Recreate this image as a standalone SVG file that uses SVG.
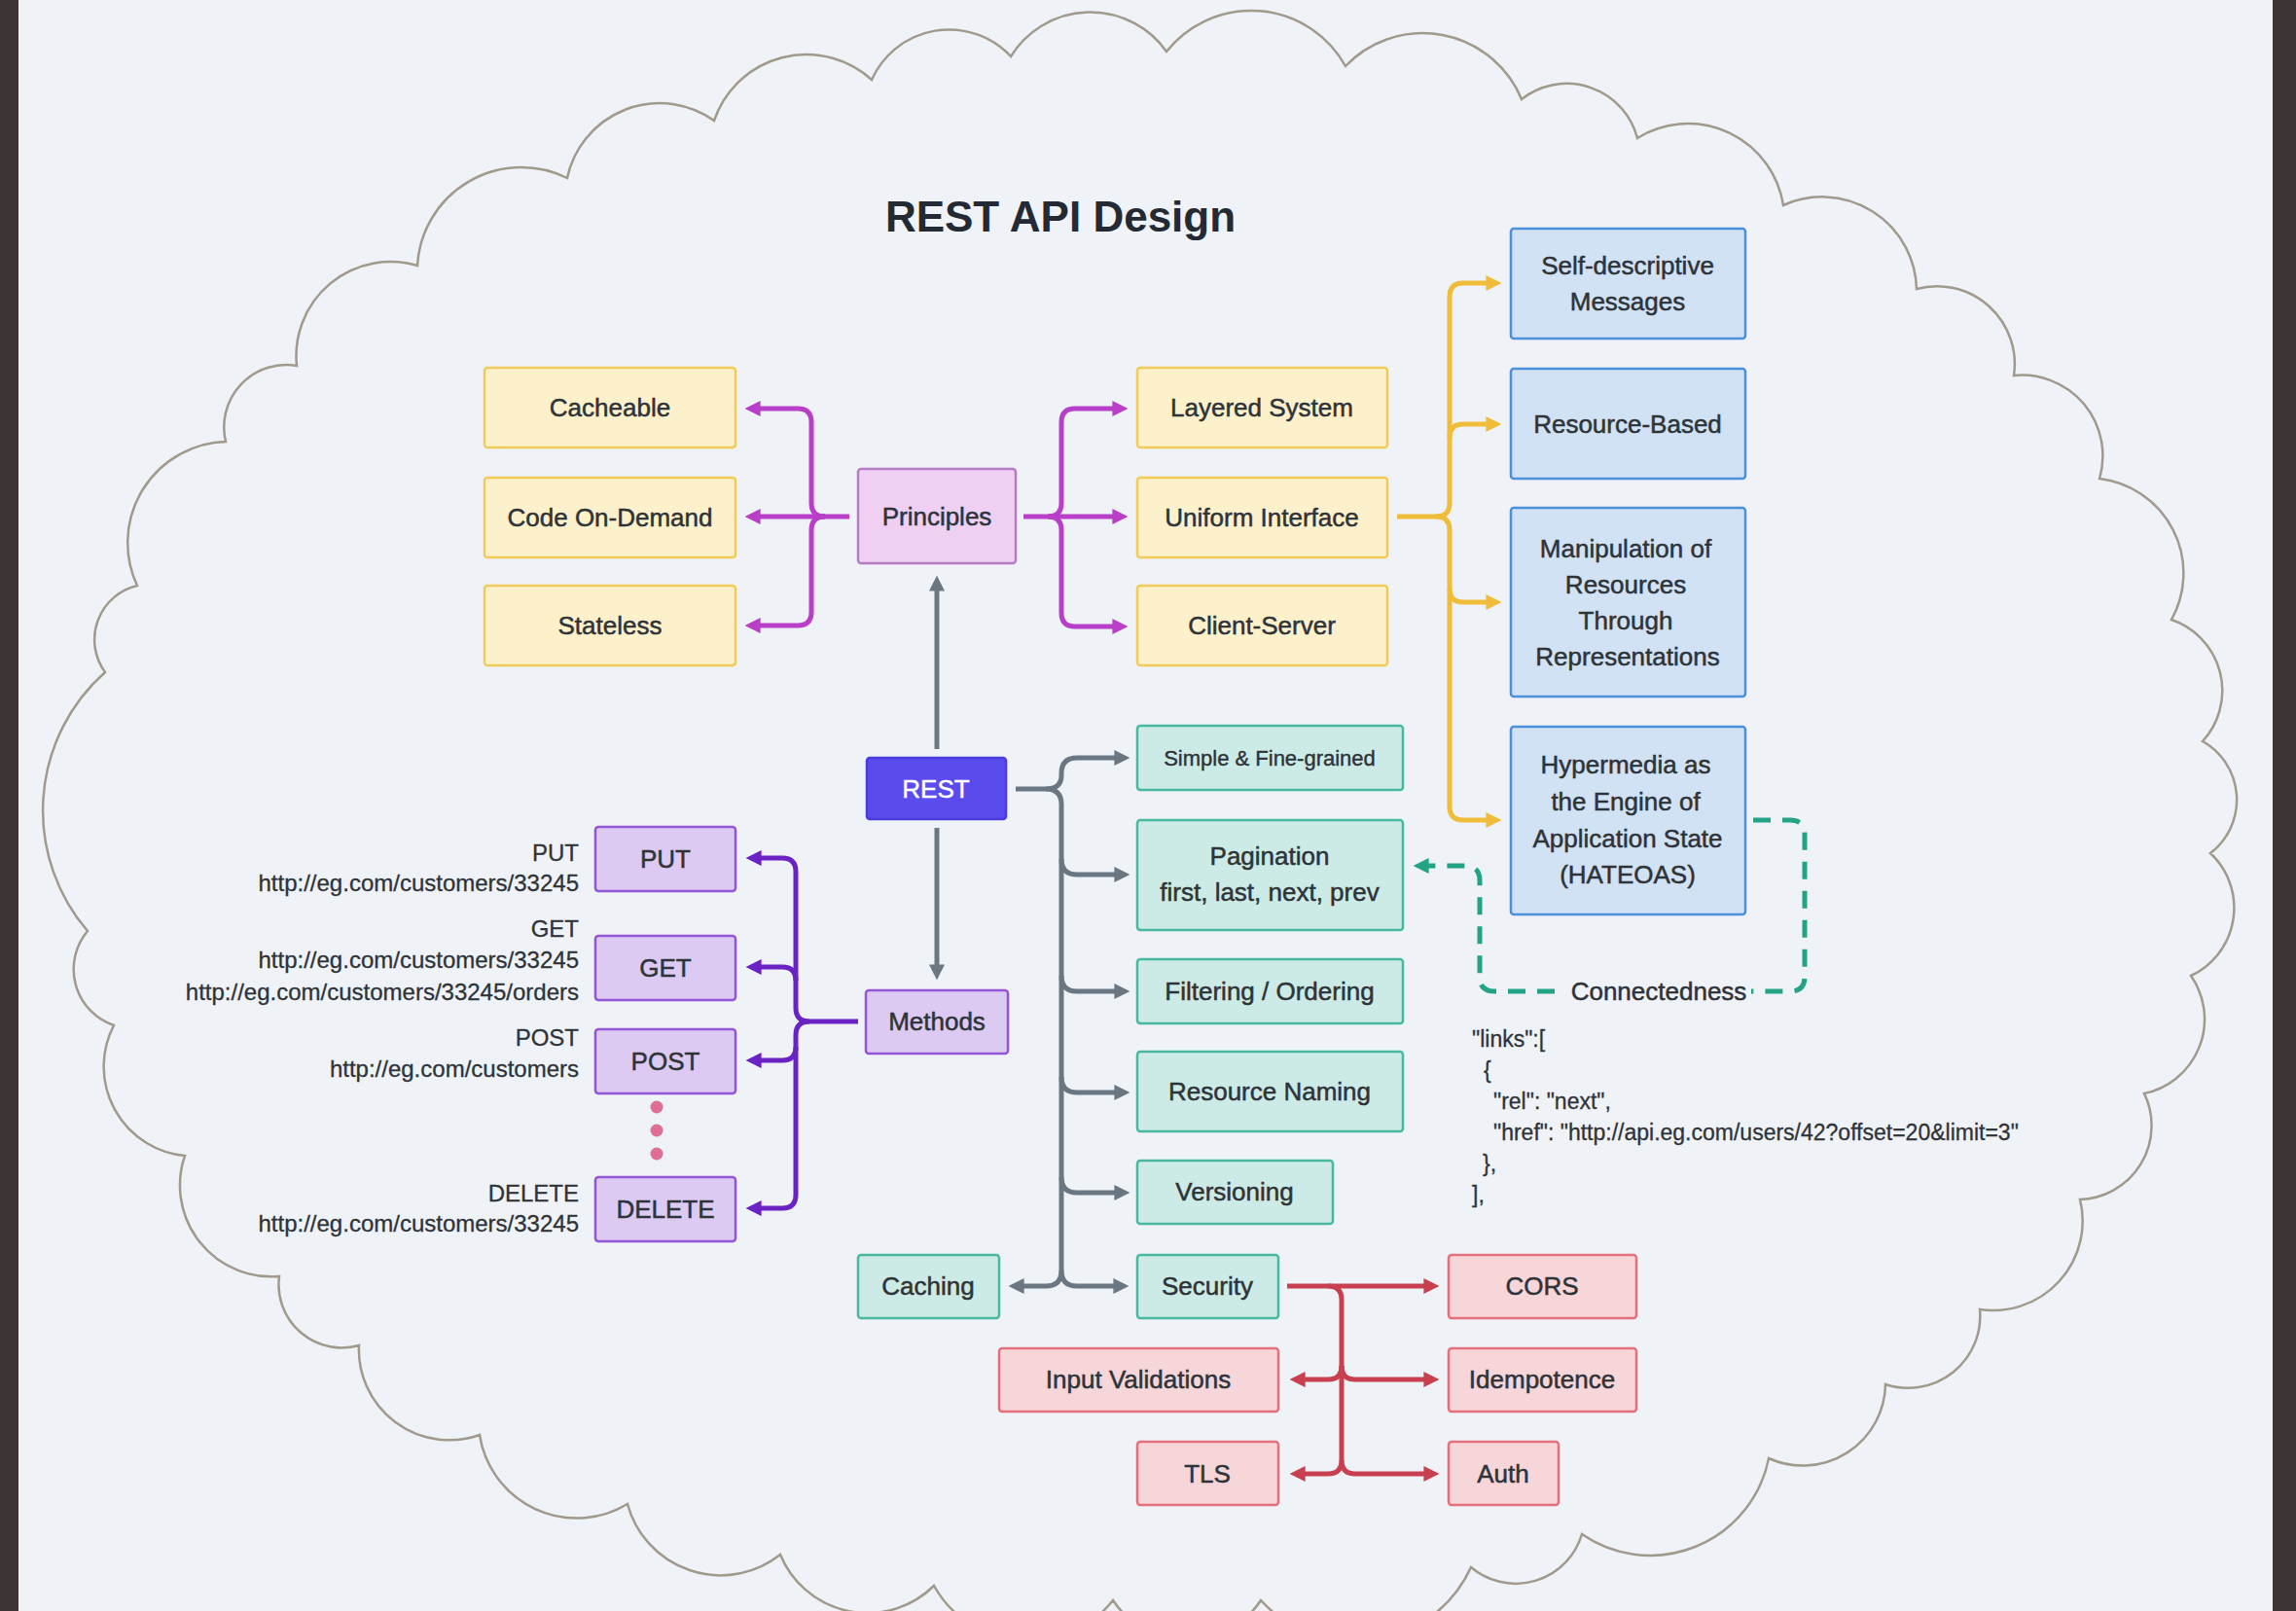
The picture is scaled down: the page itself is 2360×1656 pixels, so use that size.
<svg xmlns="http://www.w3.org/2000/svg" width="2360" height="1656" viewBox="0 0 2360 1656">
<style>
text{font-family:"Liberation Sans",Arial,sans-serif;fill:#2e3338}
.lbl{font-size:26px;text-anchor:middle;stroke:#2e3338;stroke-width:0.5px}
.sm{font-size:22px;text-anchor:middle;stroke:#2e3338;stroke-width:0.4px}
.side{font-size:24px;text-anchor:end;stroke:#2e3338;stroke-width:0.3px}
.json{font-size:23px;stroke:#2e3338;stroke-width:0.3px}
.title{font-size:44px;font-weight:bold;text-anchor:middle;fill:#232a33}
.yel{fill:#fdf1cc;stroke:#f1cc5a;stroke-width:2.5}
.pri{fill:#efd0f3;stroke:#b77cc6;stroke-width:2.5}
.met{fill:#dccaf2;stroke:#9456d6;stroke-width:2.5}
.rest{fill:#5a4bef;stroke:#4a3bdc;stroke-width:2.5}
.teal{fill:#cdebe6;stroke:#48b9a0;stroke-width:2.5}
.blue{fill:#d1e2f5;stroke:#4d8fd8;stroke-width:2.5}
.red{fill:#f7d6da;stroke:#e3707d;stroke-width:2.5}
.c{fill:none;stroke-width:5;stroke-linejoin:round}
.mag{stroke:#b93ec8}
.dp{stroke:#6a22c4}
.gr{stroke:#6b7683}
.ye{stroke:#f0bd3b}
.rd{stroke:#c8404f}
.dash{stroke:#22a386;stroke-dasharray:18 12}
</style>
<defs>
<marker id="aMag" viewBox="0 0 10 10" refX="6" refY="5" markerUnits="userSpaceOnUse" markerWidth="16" markerHeight="16" orient="auto"><path d="M0,0 L10,5 L0,10 z" fill="#b93ec8"/></marker>
<marker id="aDp" viewBox="0 0 10 10" refX="6" refY="5" markerUnits="userSpaceOnUse" markerWidth="16" markerHeight="16" orient="auto"><path d="M0,0 L10,5 L0,10 z" fill="#6a22c4"/></marker>
<marker id="aGr" viewBox="0 0 10 10" refX="6" refY="5" markerUnits="userSpaceOnUse" markerWidth="16" markerHeight="16" orient="auto"><path d="M0,0 L10,5 L0,10 z" fill="#6b7683"/></marker>
<marker id="aYe" viewBox="0 0 10 10" refX="6" refY="5" markerUnits="userSpaceOnUse" markerWidth="16" markerHeight="16" orient="auto"><path d="M0,0 L10,5 L0,10 z" fill="#f0bd3b"/></marker>
<marker id="aRd" viewBox="0 0 10 10" refX="6" refY="5" markerUnits="userSpaceOnUse" markerWidth="16" markerHeight="16" orient="auto"><path d="M0,0 L10,5 L0,10 z" fill="#c8404f"/></marker>
<marker id="aTl" viewBox="0 0 10 10" refX="6" refY="5" markerUnits="userSpaceOnUse" markerWidth="16" markerHeight="16" orient="auto"><path d="M0,0 L10,5 L0,10 z" fill="#22a386"/></marker>
</defs>

<rect x="0" y="0" width="2360" height="1656" fill="#eff2f6"/>
<rect x="0" y="0" width="19" height="1656" fill="#3d3535"/>
<rect x="2336" y="0" width="24" height="1656" fill="#3d3535"/>

<g id="cloud">
<path fill="none" stroke="#a09a8c" stroke-width="2.5" d="M108,691 A57,57 0 0 1 141,602 A104,104 0 0 1 232,454 A64,64 0 0 1 305,376 A97,97 0 0 1 429,273 A107,107 0 0 1 583,183 A97,97 0 0 1 734,124 A100,100 0 0 1 896,82 A87,87 0 0 1 1039,58 A96,96 0 0 1 1199,53 A111,111 0 0 1 1383,68 A110,110 0 0 1 1564,102 A75,75 0 0 1 1683,142 A99,99 0 0 1 1833,211 A97,97 0 0 1 1970,297 A80,80 0 0 1 2070,386 A83,83 0 0 1 2158,492 A98,98 0 0 1 2232,637 A77,77 0 0 1 2264,762 A69,69 0 0 1 2272,877 A77,77 0 0 1 2252,1003 A78,78 0 0 1 2204,1124 A76,76 0 0 1 2138,1233 A92,92 0 0 1 2035,1346 A74,74 0 0 1 1938,1423 A85,85 0 0 1 1818,1499 A124,124 0 0 1 1626,1577 A71,71 0 0 1 1512,1611 A131,131 0 0 1 1296,1645 A91,91 0 0 1 1144,1645 A111,111 0 0 1 960,1630 A97,97 0 0 1 802,1598 A99,99 0 0 1 645,1546 A101,101 0 0 1 493,1475 A93,93 0 0 1 369,1383 A65,65 0 0 1 287,1312 A94,94 0 0 1 190,1188 A92,92 0 0 1 117,1054 A61,61 0 0 1 90,957 A190,190 0 0 1 108,691 Z"/>
</g>

<text class="title" x="1090" y="238">REST API Design</text>

<g id="connectors">
<path class="c mag" d="M873,531 H772" marker-end="url(#aMag)"/>
<path class="c mag" d="M848,531 Q834,531 834,517 V434 Q834,420 820,420 H772" marker-end="url(#aMag)"/>
<path class="c mag" d="M848,531 Q834,531 834,545 V629 Q834,643 820,643 H772" marker-end="url(#aMag)"/>
<path class="c mag" d="M1052,531 H1153" marker-end="url(#aMag)"/>
<path class="c mag" d="M1077,531 Q1091,531 1091,517 V434 Q1091,420 1105,420 H1153" marker-end="url(#aMag)"/>
<path class="c mag" d="M1077,531 Q1091,531 1091,545 V630 Q1091,644 1105,644 H1153" marker-end="url(#aMag)"/>

<path class="c ye" d="M1436,531 H1476 Q1490,531 1490,517 V305 Q1490,291 1504,291 H1537" marker-end="url(#aYe)"/>
<path class="c ye" d="M1476,531 Q1490,531 1490,545 V829 Q1490,843 1504,843 H1537" marker-end="url(#aYe)"/>
<path class="c ye" d="M1490,450 Q1490,436 1504,436 H1537" marker-end="url(#aYe)"/>
<path class="c ye" d="M1490,605 Q1490,619 1504,619 H1537" marker-end="url(#aYe)"/>

<path class="c gr" d="M963,770 V598" marker-end="url(#aGr)"/>
<path class="c gr" d="M963,851 V1001" marker-end="url(#aGr)"/>
<path class="c gr" d="M1044,811 H1075 Q1091,811 1091,797 V795 Q1091,779 1107,779 H1155" marker-end="url(#aGr)"/>
<path class="c gr" d="M1075,811 Q1091,811 1091,827 V1306 Q1091,1322 1107,1322 H1154" marker-end="url(#aGr)"/>
<path class="c gr" d="M1091,883 Q1091,899 1107,899 H1155" marker-end="url(#aGr)"/>
<path class="c gr" d="M1091,1003 Q1091,1019 1107,1019 H1155" marker-end="url(#aGr)"/>
<path class="c gr" d="M1091,1107 Q1091,1123 1107,1123 H1155" marker-end="url(#aGr)"/>
<path class="c gr" d="M1091,1210 Q1091,1226 1107,1226 H1155" marker-end="url(#aGr)"/>
<path class="c gr" d="M1091,1306 Q1091,1322 1075,1322 H1043" marker-end="url(#aGr)"/>

<path class="c dp" d="M882,1050 H832 Q818,1050 818,1036 V896 Q818,882 804,882 H773" marker-end="url(#aDp)"/>
<path class="c dp" d="M832,1050 Q818,1050 818,1064 V1228 Q818,1242 804,1242 H773" marker-end="url(#aDp)"/>
<path class="c dp" d="M818,1008 Q818,994 804,994 H773" marker-end="url(#aDp)"/>
<path class="c dp" d="M818,1076 Q818,1090 804,1090 H773" marker-end="url(#aDp)"/>

<path class="c rd" d="M1323,1322 H1473" marker-end="url(#aRd)"/>
<path class="c rd" d="M1365,1322 Q1379,1322 1379,1336 V1501"/>
<path class="c rd" d="M1379,1404 Q1379,1418 1365,1418 H1332" marker-end="url(#aRd)"/>
<path class="c rd" d="M1379,1404 Q1379,1418 1393,1418 H1473" marker-end="url(#aRd)"/>
<path class="c rd" d="M1379,1501 Q1379,1515 1365,1515 H1332" marker-end="url(#aRd)"/>
<path class="c rd" d="M1379,1501 Q1379,1515 1393,1515 H1473" marker-end="url(#aRd)"/>

<path class="c dash" d="M1802,843 H1840 Q1855,843 1855,858 V1004 Q1855,1019 1840,1019 H1800"/>
<path class="c dash" d="M1598,1019 H1536 Q1521,1019 1521,1004 V905 Q1521,890 1506,890 H1459" marker-end="url(#aTl)"/>
</g>

<g id="cacheable"><rect class="yel" x="498" y="378" width="258" height="82" rx="3"/><text class="lbl" x="627" y="428">Cacheable</text></g>
<g id="code-on-demand"><rect class="yel" x="498" y="491" width="258" height="82" rx="3"/><text class="lbl" x="627" y="541">Code On-Demand</text></g>
<g id="stateless"><rect class="yel" x="498" y="602" width="258" height="82" rx="3"/><text class="lbl" x="627" y="652">Stateless</text></g>

<g id="principles"><rect class="pri" x="882" y="482" width="162" height="97" rx="3"/><text class="lbl" x="963" y="540">Principles</text></g>

<g id="layered-system"><rect class="yel" x="1169" y="378" width="257" height="82" rx="3"/><text class="lbl" x="1297" y="428">Layered System</text></g>
<g id="uniform-interface"><rect class="yel" x="1169" y="491" width="257" height="82" rx="3"/><text class="lbl" x="1297" y="541">Uniform Interface</text></g>
<g id="client-server"><rect class="yel" x="1169" y="602" width="257" height="82" rx="3"/><text class="lbl" x="1297" y="652">Client-Server</text></g>

<g id="self-descriptive"><rect class="blue" x="1553" y="235" width="241" height="113" rx="3"/><text class="lbl" x="1673" y="282">Self-descriptive</text><text class="lbl" x="1673" y="319">Messages</text></g>
<g id="resource-based"><rect class="blue" x="1553" y="379" width="241" height="113" rx="3"/><text class="lbl" x="1673" y="445">Resource-Based</text></g>
<g id="manipulation"><rect class="blue" x="1553" y="522" width="241" height="194" rx="3"/><text class="lbl" x="1671" y="573">Manipulation of</text><text class="lbl" x="1671" y="610">Resources</text><text class="lbl" x="1671" y="647">Through</text><text class="lbl" x="1673" y="684">Representations</text></g>
<g id="hateoas"><rect class="blue" x="1553" y="747" width="241" height="193" rx="3"/><text class="lbl" x="1671" y="795">Hypermedia as</text><text class="lbl" x="1671" y="833">the Engine of</text><text class="lbl" x="1673" y="871">Application State</text><text class="lbl" x="1673" y="908">(HATEOAS)</text></g>

<g id="rest"><rect class="rest" x="891" y="779" width="143" height="63" rx="3"/><text class="lbl" x="962" y="820" style="fill:#ffffff;stroke:#ffffff">REST</text></g>

<g id="methods"><rect class="met" x="890" y="1018" width="146" height="65" rx="3"/><text class="lbl" x="963" y="1059">Methods</text></g>
<g id="put"><rect class="met" x="612" y="850" width="144" height="66" rx="3"/><text class="lbl" x="684" y="892">PUT</text>
<text class="side" x="595" y="885">PUT</text><text class="side" x="595" y="916">http://eg.com/customers/33245</text></g>
<g id="get"><rect class="met" x="612" y="962" width="144" height="66" rx="3"/><text class="lbl" x="684" y="1004">GET</text>
<text class="side" x="595" y="963">GET</text><text class="side" x="595" y="995">http://eg.com/customers/33245</text><text class="side" x="595" y="1028">http://eg.com/customers/33245/orders</text></g>
<g id="post"><rect class="met" x="612" y="1058" width="144" height="66" rx="3"/><text class="lbl" x="684" y="1100">POST</text>
<text class="side" x="595" y="1075">POST</text><text class="side" x="595" y="1107">http://eg.com/customers</text></g>
<g id="ellipsis"><circle cx="675" cy="1138" r="6.5" fill="#df6f92"/><circle cx="675" cy="1162" r="6.5" fill="#df6f92"/><circle cx="675" cy="1186" r="6.5" fill="#df6f92"/></g>
<g id="delete"><rect class="met" x="612" y="1210" width="144" height="66" rx="3"/><text class="lbl" x="684" y="1252">DELETE</text>
<text class="side" x="595" y="1235">DELETE</text><text class="side" x="595" y="1266">http://eg.com/customers/33245</text></g>

<g id="simple"><rect class="teal" x="1169" y="746" width="273" height="66" rx="3"/><text class="sm" x="1305" y="787">Simple &amp; Fine-grained</text></g>
<g id="pagination"><rect class="teal" x="1169" y="843" width="273" height="113" rx="3"/><text class="lbl" x="1305" y="889">Pagination</text><text class="lbl" x="1305" y="926">first, last, next, prev</text></g>
<g id="filtering"><rect class="teal" x="1169" y="986" width="273" height="66" rx="3"/><text class="lbl" x="1305" y="1028">Filtering / Ordering</text></g>
<g id="resource-naming"><rect class="teal" x="1169" y="1081" width="273" height="82" rx="3"/><text class="lbl" x="1305" y="1131">Resource Naming</text></g>
<g id="versioning"><rect class="teal" x="1169" y="1193" width="201" height="65" rx="3"/><text class="lbl" x="1269" y="1234">Versioning</text></g>
<g id="security"><rect class="teal" x="1169" y="1290" width="145" height="65" rx="3"/><text class="lbl" x="1241" y="1331">Security</text></g>
<g id="caching"><rect class="teal" x="882" y="1290" width="145" height="65" rx="3"/><text class="lbl" x="954" y="1331">Caching</text></g>

<g id="cors"><rect class="red" x="1489" y="1290" width="193" height="65" rx="3"/><text class="lbl" x="1585" y="1331">CORS</text></g>
<g id="idempotence"><rect class="red" x="1489" y="1386" width="193" height="65" rx="3"/><text class="lbl" x="1585" y="1427">Idempotence</text></g>
<g id="auth"><rect class="red" x="1489" y="1482" width="113" height="65" rx="3"/><text class="lbl" x="1545" y="1524">Auth</text></g>
<g id="input-validations"><rect class="red" x="1027" y="1386" width="287" height="65" rx="3"/><text class="lbl" x="1170" y="1427">Input Validations</text></g>
<g id="tls"><rect class="red" x="1169" y="1482" width="145" height="65" rx="3"/><text class="lbl" x="1241" y="1524">TLS</text></g>

<g id="connectedness"><text class="lbl" x="1705" y="1028">Connectedness</text></g>

<g id="json">
<text class="json" x="1513" y="1076">"links":[</text>
<text class="json" x="1525" y="1108">{</text>
<text class="json" x="1535" y="1140">"rel": "next",</text>
<text class="json" x="1535" y="1172">"href": "http://api.eg.com/users/42?offset=20&amp;limit=3"</text>
<text class="json" x="1524" y="1204">},</text>
<text class="json" x="1513" y="1236">],</text>
</g>
</svg>
